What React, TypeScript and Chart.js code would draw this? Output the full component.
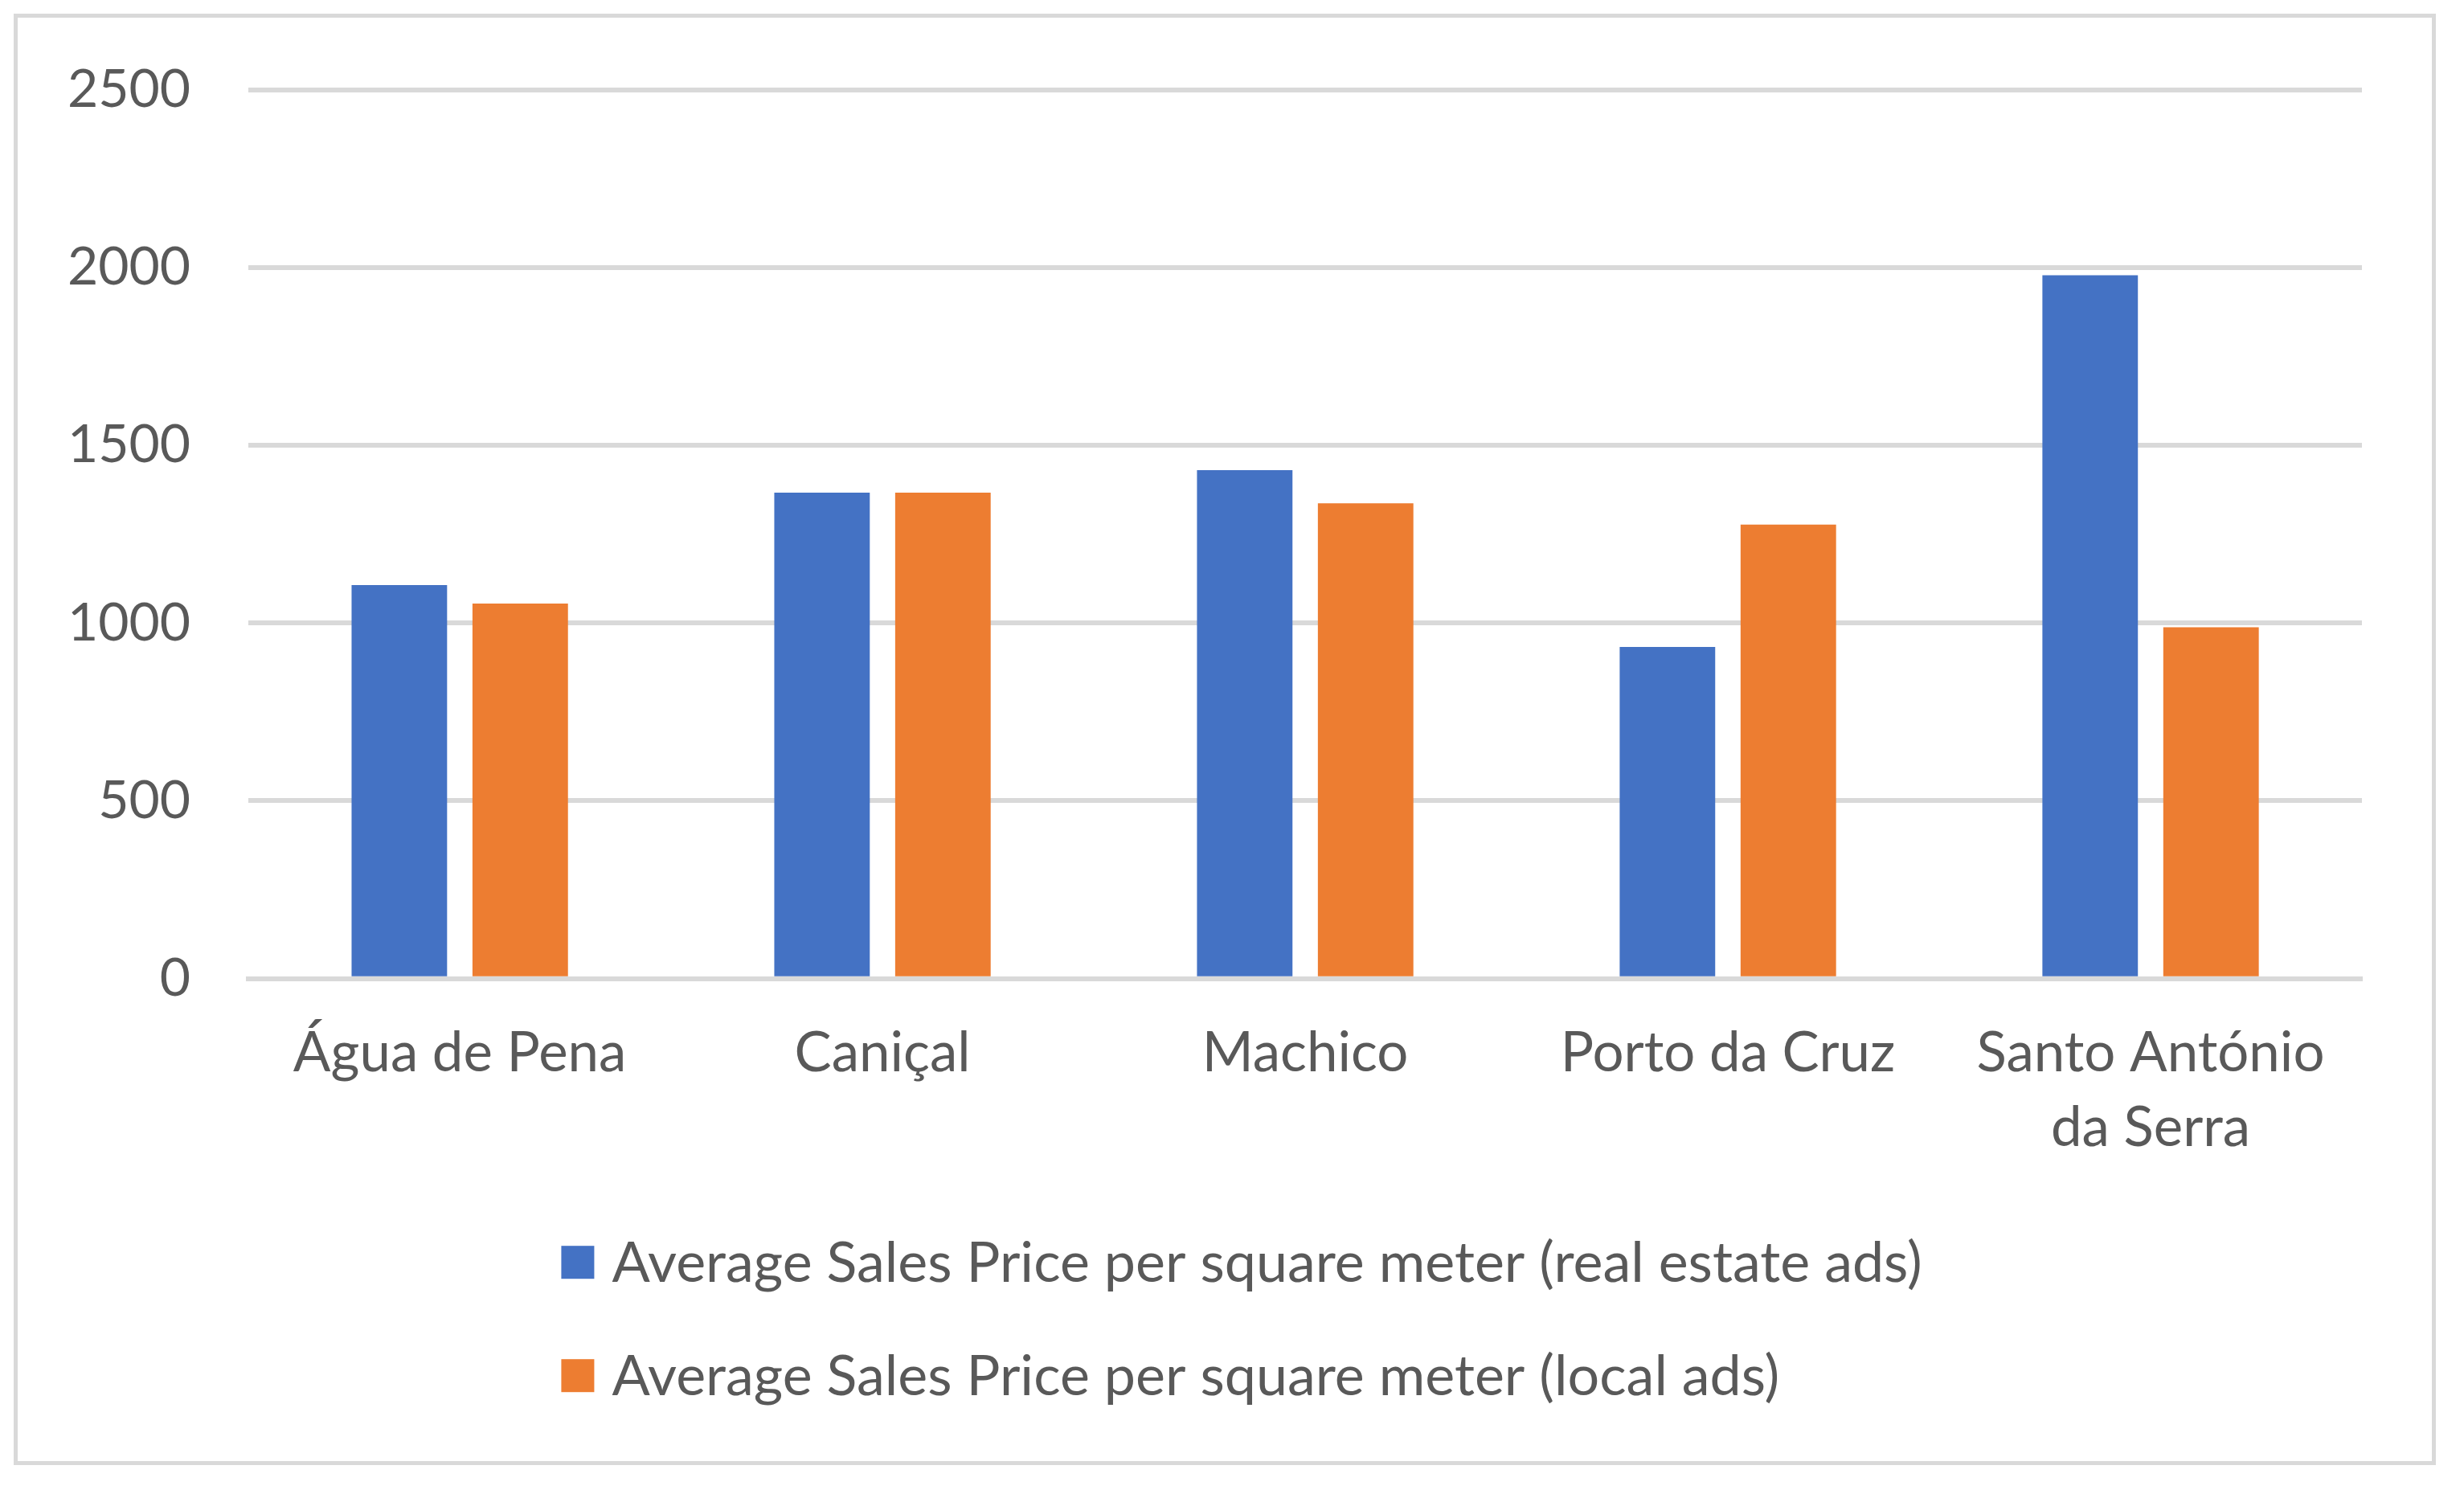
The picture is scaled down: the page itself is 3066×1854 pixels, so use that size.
import React, { useEffect, useRef } from "react";
import { Chart, registerables } from "chart.js";
Chart.register(...registerables);

const categories: (string | string[])[] = [
  "Água de Pena",
  "Caniçal",
  "Machico",
  "Porto da Cruz",
  ["Santo António", "da Serra"],
];
const realEstateAds = [1107, 1367, 1430, 933, 1978];
const localAds = [1055, 1367, 1337, 1277, 988];
const seriesLabels = [
  "Average Sales Price per square meter (real estate ads)",
  "Average Sales Price per square meter (local ads)",
];
const yTicks = [0, 500, 1000, 1500, 2000, 2500];

const FONT = "Lato";
const FONT_SIZE = 69;
const LEGEND_FONT_SIZE = 70;
const Y_FONT_SIZE = 66;
const TEXT = "#595959";
const GRID = "#D9D9D9";
const BLUE = "#4472C4";
const ORANGE = "#ED7D31";

const legendPlugin = {
  id: "customLegend",
  afterDraw(chart: any) {
    const ctx = chart.ctx;
    ctx.save();
    ctx.font = `${LEGEND_FONT_SIZE}px ${FONT}`;
    const box = 41;
    const gap = 22;
    const items = chart.data.datasets.map((ds: any) => ({
      text: ds.label,
      color: ds.backgroundColor,
    }));
    const widths = items.map((it: any) => box + gap + ctx.measureText(it.text).width);
    const blockW = Math.max(...widths);
    const left = (chart.width - blockW) / 2 + 12;
    const base = chart.chartArea.bottom;
    const rows = [base + 353, base + 494];
    items.forEach((it: any, i: number) => {
      ctx.fillStyle = it.color;
      ctx.fillRect(left, rows[i] - box / 2, box, box);
      ctx.fillStyle = TEXT;
      ctx.textBaseline = "middle";
      ctx.textAlign = "left";
      ctx.fillText(it.text, left + box + gap, rows[i] + 2);
    });
    ctx.restore();
  },
};

export default function App() {
  const ref = useRef<HTMLCanvasElement | null>(null);
  useEffect(() => {
    document.body.style.margin = "0";
    if (!ref.current) return;
    const chart = new Chart(ref.current, {
      type: "bar",
      data: {
        labels: categories,
        datasets: [
          { label: seriesLabels[0], data: realEstateAds, backgroundColor: BLUE },
          { label: seriesLabels[1], data: localAds, backgroundColor: ORANGE },
        ],
      },
      options: {
        animation: false,
        responsive: false,
        devicePixelRatio: 1,
        layout: { padding: { left: 12, right: 127, top: 111, bottom: 366 } },
        datasets: { bar: { categoryPercentage: 0.572, barPercentage: 0.79 } },
        plugins: { legend: { display: false }, tooltip: { enabled: false } },
        scales: {
          x: {
            grid: { display: false },
            border: { display: true, color: GRID, width: 6 },
            ticks: {
              color: TEXT,
              font: { family: FONT, size: FONT_SIZE, lineHeight: 1.35 },
              padding: 38,
              maxRotation: 0,
              autoSkip: false,
            },
          },
          y: {
            min: yTicks[0],
            max: yTicks[yTicks.length - 1],
            afterBuildTicks: (axis: any) => {
              axis.ticks = yTicks.map((v) => ({ value: v }));
            },
            grid: { color: GRID, lineWidth: 6, drawTicks: false },
            border: { display: false },
            ticks: {
              color: TEXT,
              font: { family: FONT, size: Y_FONT_SIZE },
              padding: 72,
              callback: (v: any) => String(v),
            },
          },
        },
      },
      plugins: [legendPlugin],
    });
    return () => chart.destroy();
  }, []);
  return (
    <div style={{ position: "relative", width: 3066, height: 1854, background: "#fff" }}>
      <canvas ref={ref} width={3066} height={1854} style={{ display: "block", width: 3066, height: 1854 }} />
      <div
        style={{
          position: "absolute",
          left: 17,
          top: 17,
          width: 3014,
          height: 1806,
          border: "5px solid #D9D9D9",
          boxSizing: "border-box",
          pointerEvents: "none",
        }}
      />
    </div>
  );
}
